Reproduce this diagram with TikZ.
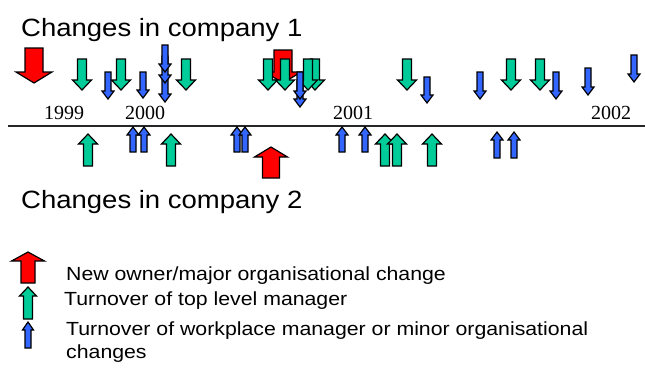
\documentclass[tikz,border=0pt]{standalone}
\usepackage{fontspec}
\setmainfont{Liberation Serif}
\newfontfamily\titlefont[FakeStretch=1.1]{Liberation Sans}
\newfontfamily\legfont[FakeStretch=1.12]{Liberation Sans}
\definecolor{arred}{RGB}{255,0,0}
\definecolor{argreen}{RGB}{0,204,153}
\definecolor{arblue}{RGB}{51,102,255}
\tikzset{
  arrowline/.style={draw=black, line width=1.2pt, line join=miter},
  title/.style={anchor=base west, inner sep=0pt, font=\titlefont\fontsize{25}{30}\selectfont},
  year/.style={anchor=base, inner sep=0pt, font=\fontsize{20}{24}\selectfont},
  legend/.style={anchor=base west, inner sep=0pt, font=\legfont\fontsize{19}{23}\selectfont},
}
% x, top, tip, shaft width, head width, head length, colour
\newcommand{\downarr}[7]{%
  \filldraw[arrowline, fill=#7] ({#1-#4/2},#2) -- ({#1+#4/2},#2) -- ({#1+#4/2},{#3-#6}) -- ({#1+#5/2},{#3-#6}) -- (#1,#3) -- ({#1-#5/2},{#3-#6}) -- ({#1-#4/2},{#3-#6}) -- cycle;}
% x, tip, bottom, shaft width, head width, head length, colour
\newcommand{\uparr}[7]{%
  \filldraw[arrowline, fill=#7] ({#1-#4/2},#3) -- ({#1+#4/2},#3) -- ({#1+#4/2},{#2+#6}) -- ({#1+#5/2},{#2+#6}) -- (#1,#2) -- ({#1-#5/2},{#2+#6}) -- ({#1-#4/2},{#2+#6}) -- cycle;}
\newcommand{\gdn}[1]{\downarr{#1}{59}{90}{9}{19}{10}{argreen}}
\newcommand{\bdn}[3]{\downarr{#1}{#2}{#3}{6}{12}{8}{arblue}}
\newcommand{\rdn}[3]{\downarr{#1}{#2}{#3}{18}{36}{11}{arred}}
\newcommand{\gup}[1]{\uparr{#1}{134}{166}{9}{19}{10}{argreen}}
\newcommand{\bup}[3]{\uparr{#1}{#2}{#3}{6}{12}{8}{arblue}}
\begin{document}
\begin{tikzpicture}[x=1pt,y=-1pt]
\useasboundingbox (0,0) rectangle (645,373);
% titles
\node[title] (t1) at (21,36) {Changes in company 1};
\node[title] (t2) at (21,208) {Changes in company 2};
% time line
\coordinate (lineL) at (8,126);
\coordinate (lineR) at (645,126);
\draw[line width=1.4pt, black!85] (lineL) -- (lineR);
% years
\node[year] (y1999) at (64,119) {1999};
\node[year] (y2000) at (145,119) {2000};
\node[year] (y2001) at (353,119) {2001};
\node[year] (y2002) at (611,119) {2002};
% company 1 (down arrows)
\rdn{34}{48}{83}
\rdn{283}{50}{83}
\gdn{82}
\gdn{121}
\gdn{186}
\gdn{268}
\gdn{285}
\gdn{315}
\gdn{308}
\gdn{407}
\gdn{511}
\gdn{540}
\bdn{108}{72}{99}
\bdn{143}{72}{98}
\bdn{165}{75}{102}
\bdn{165}{56}{83}
\bdn{165}{45}{72}
\bdn{300}{80}{107}
\bdn{300}{72}{99}
\bdn{427}{77}{103}
\bdn{480}{72}{99}
\bdn{556}{72}{99}
\bdn{588}{68}{95}
\bdn{634}{55}{82}
% company 2 (up arrows)
\gup{88}
\gup{171}
\gup{385}
\gup{397}
\gup{432}
\bup{133}{127}{152}
\bup{144}{127}{152}
\bup{237}{127}{152}
\bup{245}{127}{152}
\bup{342}{127}{152}
\bup{365}{127}{152}
\bup{497}{132}{158}
\bup{514}{132}{158}
\uparr{271}{147}{178}{17}{33}{10}{arred}
% legend
\uparr{28}{252}{283}{14}{33}{9}{arred}
\uparr{28}{287}{319}{9}{17}{9}{argreen}
\uparr{28}{322}{348}{6}{11}{8}{arblue}
\node[legend] (l1) at (66,280) {New owner/major organisational change};
\node[legend] (l2) at (64,305) {Turnover of top level manager};
\node[legend] (l3) at (66,335) {Turnover of workplace manager or minor organisational};
\node[legend] (l4) at (66,358) {changes};
\end{tikzpicture}
\end{document}
